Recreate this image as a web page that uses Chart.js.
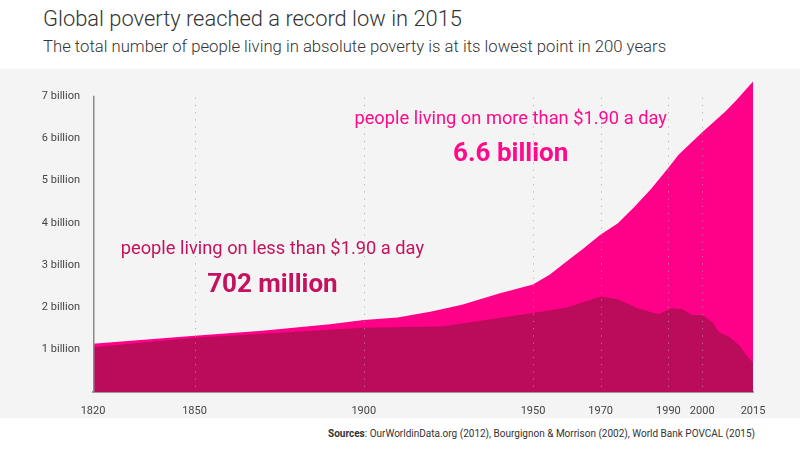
<!DOCTYPE html>
<html>
<head>
<meta charset="utf-8">
<script src="https://cdn.jsdelivr.net/npm/chart.js@4.4.1/dist/chart.umd.min.js"></script>
<style>
    html, body { margin: 0; padding: 0; background: #fff; }
    body { width: 800px; height: 449px; position: relative; overflow: hidden; font-family: Roboto, sans-serif; }
    #title { position: absolute; left: 43px; top: 6px; font-size: 21.9px; font-weight: 300; color: #333; white-space: nowrap; }
    #subtitle { position: absolute; left: 43px; top: 37px; font-size: 16.7px; font-weight: 300; color: #333; white-space: nowrap; }
    #panel { position: absolute; left: 0; top: 69px; width: 800px; height: 349px; background: #f4f4f4; }
    #sources { position: absolute; right: 45px; top: 428px; font-size: 10px; color: #333; white-space: nowrap; }
</style>
</head>
<body>
<div id="title">Global poverty reached a record low in 2015</div>
<div id="subtitle">The total number of people living in absolute poverty is at its lowest point in 200 years</div>
<div id="panel"><canvas id="povertyChart"></canvas></div>
<div id="sources"><b>Sources</b>: OurWorldinData.org (2012), Bourgignon &amp; Morrison (2002), World Bank POVCAL (2015)</div>

<script>
// World population (billions)
const popYears = [1820, 1850, 1870, 1890, 1900, 1910, 1920, 1929, 1940, 1950, 1955, 1960, 1965, 1970, 1975, 1980, 1985, 1990, 1993, 2000, 2007, 2010, 2015];
const popTotal = [1.14, 1.33, 1.45, 1.60, 1.70, 1.76, 1.90, 2.06, 2.33, 2.54, 2.78, 3.09, 3.40, 3.72, 3.98, 4.38, 4.81, 5.30, 5.61, 6.14, 6.64, 6.89, 7.34];

// People living on less than $1.90 a day (billions)
const povYears = [1820, 1850, 1900, 1923, 1941, 1950, 1960, 1970, 1975, 1981, 1987, 1991, 1994, 1997, 2000, 2003, 2005, 2008, 2011, 2013, 2015];
const povPeople = [1.06, 1.28, 1.52, 1.55, 1.76, 1.87, 2.00, 2.26, 2.19, 1.98, 1.84, 1.98, 1.96, 1.82, 1.82, 1.65, 1.41, 1.30, 1.10, 0.87, 0.70];

const xTickYears = [1820, 1850, 1900, 1950, 1970, 1990, 2000, 2015];
const gridYears = [1850, 1900, 1950, 1970, 1990, 2000];
const yTickValues = [1, 2, 3, 4, 5, 6, 7];

const colorAbove = '#ff0088';
const colorBelow = '#bb0c5b';

function toPoints(xs, ys) {
    return xs.map((x, i) => ({ x: x, y: ys[i] }));
}

// dotted guides, left axis line and the two annotations
const overlayPlugin = {
    id: 'overlay',
    afterDatasetsDraw(chart) {
        const ctx = chart.ctx;
        const xs = chart.scales.x;
        const ys = chart.scales.y;
        const top = ys.getPixelForValue(7);
        const bottom = ys.getPixelForValue(0);

        ctx.save();
        ctx.strokeStyle = 'rgba(160,160,160,0.9)';
        ctx.lineWidth = 1;
        ctx.setLineDash([1, 6.2]);
        gridYears.forEach(yr => {
            const px = Math.round(xs.getPixelForValue(yr)) + 0.5;
            ctx.beginPath();
            ctx.moveTo(px, top + 2);
            ctx.lineTo(px, bottom - 4);
            ctx.stroke();
        });
        ctx.setLineDash([]);

        ctx.strokeStyle = '#8a8a8a';
        ctx.lineWidth = 1.5;
        const ax = xs.left + 0.75;
        ctx.beginPath();
        ctx.moveTo(ax, top);
        ctx.lineTo(ax, bottom);
        ctx.stroke();

        ctx.textAlign = 'center';
        ctx.textBaseline = 'middle';
        ctx.fillStyle = '#c4125e';
        ctx.font = '18.3px Roboto';
        ctx.fillText('people living on less than $1.90 a day', xs.getPixelForValue(1873), ys.getPixelForValue(3.38));
        ctx.font = 'bold 26px Roboto';
        ctx.fillText('702 million', xs.getPixelForValue(1873), ys.getPixelForValue(2.51));

        ctx.fillStyle = '#ff0a8c';
        ctx.font = '18.3px Roboto';
        ctx.fillText('people living on more than $1.90 a day', xs.getPixelForValue(1943.4), ys.getPixelForValue(6.44));
        ctx.font = 'bold 26px Roboto';
        ctx.fillText('6.6 billion', xs.getPixelForValue(1943.4), ys.getPixelForValue(5.61));
        ctx.restore();
    }
};

new Chart(document.getElementById('povertyChart').getContext('2d'), {
    type: 'line',
    data: {
        datasets: [
            {
                label: 'people living on less than $1.90 a day',
                data: toPoints(povYears, povPeople),
                backgroundColor: colorBelow,
                borderWidth: 0,
                pointRadius: 0,
                fill: 'origin',
                tension: 0
            },
            {
                label: 'people living on more than $1.90 a day',
                data: toPoints(popYears, popTotal),
                backgroundColor: colorAbove,
                borderWidth: 0,
                pointRadius: 0,
                fill: 'origin',
                tension: 0
            }
        ]
    },
    options: {
        responsive: true,
        maintainAspectRatio: false,
        animation: false,
        layout: { padding: { top: 0, right: 47, left: 0, bottom: 0 } },
        plugins: {
            legend: { display: false },
            tooltip: { enabled: false }
        },
        scales: {
            x: {
                type: 'linear',
                min: 1820,
                max: 2015,
                afterBuildTicks: scale => { scale.ticks = xTickYears.map(v => ({ value: v })); },
                afterFit: scale => { scale.height = 26; },
                grid: { display: false },
                border: { display: true, color: '#9a9a9a', width: 2 },
                ticks: {
                    autoSkip: false,
                    maxRotation: 0,
                    padding: 5,
                    color: '#444',
                    font: { family: 'Roboto', size: 11 },
                    callback: v => String(v)
                }
            },
            y: {
                min: 0,
                max: 7.36,
                afterBuildTicks: scale => { scale.ticks = yTickValues.map(v => ({ value: v })); },
                afterFit: scale => { scale.width = 93; },
                grid: { display: false },
                border: { display: false },
                ticks: {
                    padding: 5,
                    color: '#444',
                    font: { family: 'Roboto', size: 11 },
                    callback: v => v + ' billion'
                }
            }
        }
    },
    plugins: [overlayPlugin]
});
</script>
</body>
</html>
